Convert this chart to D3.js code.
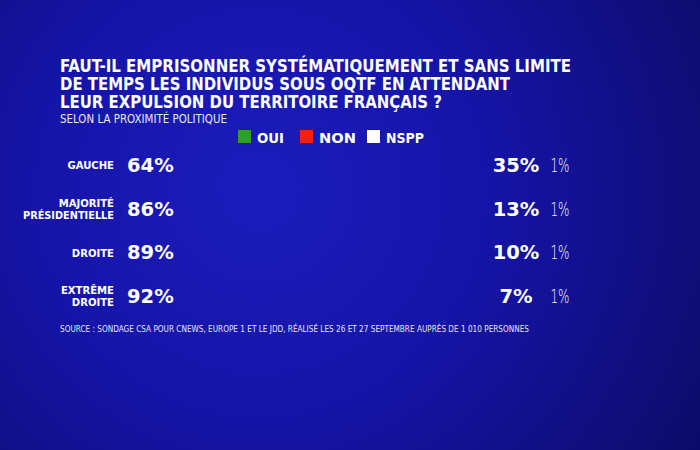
<!DOCTYPE html>
<html><head><meta charset="utf-8">
<script src="https://cdn.jsdelivr.net/npm/d3@7"></script>
<style>html,body{margin:0;padding:0;background:#12109a;}svg{display:block;}</style>
</head><body>
<svg id="c" width="700" height="450"></svg>
<script>
const titleLines = ["FAUT-IL EMPRISONNER SYSTÉMATIQUEMENT ET SANS LIMITE",
  "DE TEMPS LES INDIVIDUS SOUS OQTF EN ATTENDANT",
  "LEUR EXPULSION DU TERRITOIRE FRANÇAIS ?"];
const subtitle = "SELON LA PROXIMITÉ POLITIQUE";
const source = "SOURCE : SONDAGE CSA POUR CNEWS, EUROPE 1 ET LE JDD, RÉALISÉ LES 26 ET 27 SEPTEMBRE AUPRÈS DE 1 010 PERSONNES";
const categories = [["GAUCHE"], ["MAJORITÉ", "PRÉSIDENTIELLE"], ["DROITE"], ["EXTRÊME", "DROITE"]];
const seriesNames = ["OUI", "NON", "NSPP"];
const seriesColors = ["#2ca02c", "#f2200f", "#ffffff"];
const oui = [64, 86, 89, 92];
const non = [35, 13, 10, 7];
const nspp = [1, 1, 1, 1];

const svg = d3.select("#c");
const defs = svg.append("defs");
const g = defs.append("radialGradient").attr("id","bg").attr("gradientUnits","userSpaceOnUse")
  .attr("cx",260).attr("cy",190).attr("r",500);
g.append("stop").attr("offset","0%").attr("stop-color","#1b1cbc");
g.append("stop").attr("offset","45%").attr("stop-color","#1614a8");
g.append("stop").attr("offset","100%").attr("stop-color","#0d0b6a");
svg.append("rect").attr("width",700).attr("height",450).attr("fill","url(#bg)");

const condB = "'DejaVu Sans Condensed','Liberation Sans Narrow','Roboto Condensed',sans-serif";
const titleWidths = [511, 450, 382];
titleLines.forEach((t,i)=>{
  svg.append("text").attr("x",60).attr("y",72+i*18).text(t)
    .attr("fill","#fff").attr("font-family",condB).attr("font-weight","bold")
    .attr("font-size",17).attr("textLength",titleWidths[i]).attr("lengthAdjust","spacingAndGlyphs");
});
svg.append("text").attr("x",60).attr("y",123).text(subtitle)
  .attr("fill","#e8e8f4").attr("font-family",condB).attr("font-size",11.5)
  .attr("textLength",167).attr("lengthAdjust","spacingAndGlyphs");

// legend
const legX = d3.scaleOrdinal().domain(seriesNames).range([238, 300, 367]);
const legW = {OUI:27, NON:37, NSPP:38};
const leg = svg.append("g");
seriesNames.forEach((s,i)=>{
  leg.append("rect").attr("x",legX(s)).attr("y",130).attr("width",13).attr("height",13).attr("fill",seriesColors[i]);
  leg.append("text").attr("x",legX(s)+19).attr("y",142.5).text(s).attr("fill","#fff")
    .attr("font-family","'DejaVu Sans',sans-serif").attr("font-weight","bold").attr("font-size",14)
    .attr("textLength",legW[s]).attr("lengthAdjust","spacingAndGlyphs");
});

// rows
const y = d3.scaleBand().domain(d3.range(categories.length)).range([143, 318]).paddingInner(0);
const colX = d3.scaleOrdinal().domain(["cat","oui","non","nspp"]).range([114, 127, 516, 560]);
const catMaxW = 91;
const rows = svg.append("g").selectAll("g").data(categories).join("g")
  .attr("transform",(d,i)=>`translate(0,${y(i)+y.bandwidth()/2})`);

rows.each(function(d,i){
  const r = d3.select(this);
  const n = d.length;
  d.forEach((line,j)=>{
    const t = r.append("text").attr("x",colX("cat")).attr("y",(j-(n-1)/2)*12 + 4.2).text(line)
      .attr("text-anchor","end").attr("fill","#fff").attr("font-family",condB)
      .attr("font-weight","bold").attr("font-size",11.2);
    const w = t.node().getComputedTextLength();
    if (w > catMaxW) t.attr("textLength",catMaxW).attr("lengthAdjust","spacingAndGlyphs");
  });
  r.append("text").attr("x",colX("oui")).attr("y",7).text(oui[i]+"%")
    .attr("fill","#fff").attr("font-family","'DejaVu Sans',sans-serif").attr("font-weight","bold").attr("font-size",19.5);
  r.append("text").attr("x",colX("non")).attr("y",7).text(non[i]+"%").attr("text-anchor","middle")
    .attr("fill","#fff").attr("font-family","'DejaVu Sans',sans-serif").attr("font-weight","bold").attr("font-size",19.5);
  r.append("text").attr("x",colX("nspp")).attr("y",7).text(nspp[i]+"%").attr("text-anchor","middle")
    .attr("fill","#fff").attr("font-family","'DejaVu Sans',sans-serif").attr("font-weight","200").attr("font-size",19.5)
    .attr("textLength",19).attr("lengthAdjust","spacingAndGlyphs");
});

svg.append("text").attr("x",60).attr("y",332).text(source)
  .attr("fill","#e6e6f2").attr("font-family",condB).attr("font-size",8.5)
  .attr("textLength",469).attr("lengthAdjust","spacingAndGlyphs");
</script>
</body></html>
